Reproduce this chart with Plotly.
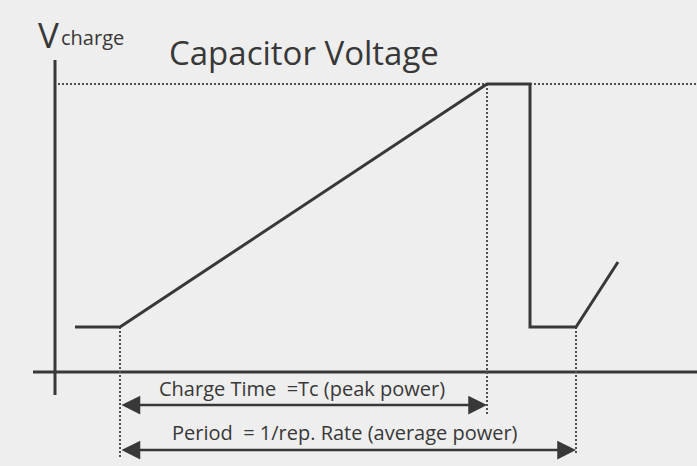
import plotly.graph_objects as go

# Waveform (time units, voltage units; origin at axes crossing)
wave_t = [20, 65, 432, 475, 475, 521, 563]
wave_v = [45, 45, 288, 288, 45, 45, 110]

# Axes extents
yaxis_t = [0, 0]
yaxis_v = [312, -23]
xaxis_t = [-22, 642]
xaxis_v = [0, 0]

# Peak dotted line
peak_t = [3, 642]
peak_v = [288, 288]

# Vertical dotted markers
mark1_t = [65, 65]
mark1_v = [45, -87]
mark2_t = [432, 432]
mark2_v = [288, -43]
mark3_t = [521, 521]
mark3_v = [45, -83]

# Arrows
charge_arrow_t = [65, 432]
charge_arrow_v = -33
period_arrow_t = [65, 521]
period_arrow_v = -78

title_text = "Capacitor Voltage"
ylabel_main = "V"
ylabel_sub = "charge"
charge_label = "Charge Time  =Tc (peak power)"
period_label = "Period  = 1/rep. Rate (average power)"

ink = "#383838"
dot_ink = "#505050"
font = "Open Sans"

fig = go.Figure()

fig.add_trace(go.Scatter(x=yaxis_t, y=yaxis_v, mode="lines", line=dict(color=ink, width=3), hoverinfo="skip"))
fig.add_trace(go.Scatter(x=xaxis_t, y=xaxis_v, mode="lines", line=dict(color=ink, width=3), hoverinfo="skip"))
fig.add_trace(go.Scatter(x=peak_t, y=peak_v, mode="lines", line=dict(color=dot_ink, width=2, dash="2px,2px"), hoverinfo="skip"))
for tt, vv in [(mark1_t, mark1_v), (mark2_t, mark2_v), (mark3_t, mark3_v)]:
    fig.add_trace(go.Scatter(x=tt, y=vv, mode="lines", line=dict(color=dot_ink, width=2, dash="2px,2px"), hoverinfo="skip"))
fig.add_trace(go.Scatter(x=wave_t, y=wave_v, mode="lines", line=dict(color=ink, width=3), hoverinfo="skip"))

for ts, v in [(charge_arrow_t, charge_arrow_v), (period_arrow_t, period_arrow_v)]:
    fig.add_annotation(x=ts[1], y=v, ax=ts[0], ay=v, xref="x", yref="y", axref="x", ayref="y",
                       showarrow=True, arrowhead=2, arrowsize=1.5, arrowwidth=2.5,
                       arrowside="end+start", arrowcolor=ink, text="")

fig.add_annotation(x=247, y=-16, xref="x", yref="y", text=charge_label, showarrow=False,
                   font=dict(family=font, size=20, color=ink))
fig.add_annotation(x=290, y=-60, xref="x", yref="y", text=period_label, showarrow=False,
                   font=dict(family=font, size=20, color=ink))
fig.add_annotation(x=249, y=320, xref="x", yref="y", text=title_text, showarrow=False,
                   font=dict(family=font, size=33, color=ink))
fig.add_annotation(x=-19, y=338, xref="x", yref="y", xanchor="left", text=ylabel_main, showarrow=False,
                   font=dict(family=font, size=35, color=ink))
fig.add_annotation(x=4, y=335, xref="x", yref="y", xanchor="left", text=ylabel_sub, showarrow=False,
                   font=dict(family=font, size=20, color=ink))

fig.update_layout(
    width=697, height=466,
    margin=dict(l=0, r=0, t=0, b=0),
    paper_bgcolor="#eeeeee", plot_bgcolor="#eeeeee",
    showlegend=False,
    xaxis=dict(range=[-55, 642], visible=False, fixedrange=True),
    yaxis=dict(range=[-94, 372], visible=False, fixedrange=True),
)

fig.write_html("out.html", config={"displayModeBar": False},
               post_script="document.body.style.margin='0';document.body.style.background='#eeeeee';")
